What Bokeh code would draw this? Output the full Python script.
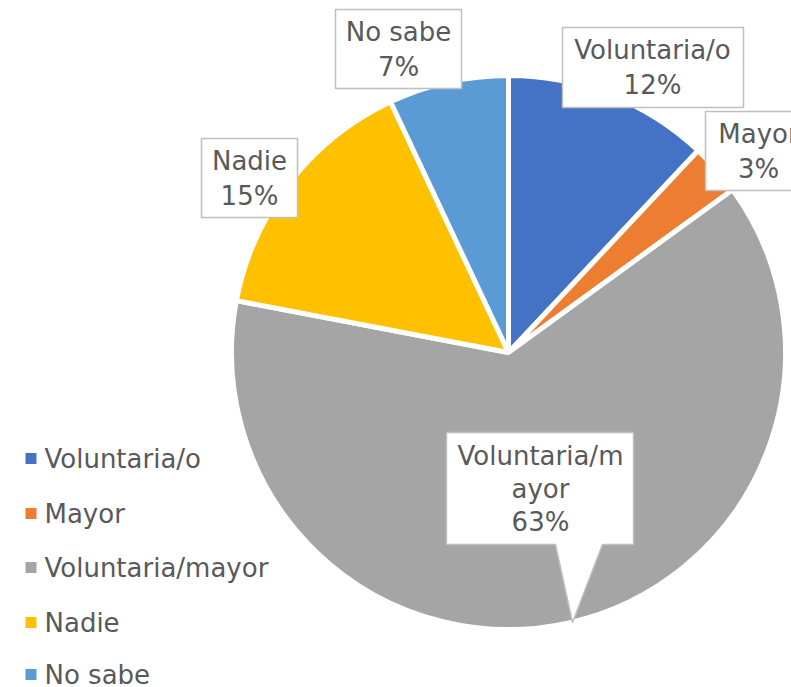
import math
from bokeh.plotting import figure
from bokeh.models import Range1d, ColumnDataSource
from bokeh.core.properties import value
from bokeh.embed import file_html
from bokeh.resources import INLINE

# ---- data ----
categories = ["Voluntaria/o", "Mayor", "Voluntaria/mayor", "Nadie", "No sabe"]
percents = [12, 3, 63, 15, 7]
colors = ["#4472C4", "#ED7D31", "#A5A5A5", "#FFC000", "#5B9BD5"]
label_lines = [["Voluntaria/o", "12%"], ["Mayor", "3%"], ["Voluntaria/m", "ayor", "63%"],
               ["Nadie", "15%"], ["No sabe", "7%"]]

W, H = 791, 687
FONT = "DejaVu Sans"
TXT = "#595959"
FS = "26px"

def Y(py):
    return H - py

p = figure(width=W, height=H, x_range=Range1d(0, W), y_range=Range1d(0, H),
           toolbar_location=None, output_backend="svg", min_border=0,
           x_axis_location=None, y_axis_location=None)
p.grid.visible = False
p.outline_line_color = None
p.background_fill_color = "white"

# ---- pie ----
cx, cy, r = 508, Y(352), 277
total = sum(percents)
starts, ends = [], []
cum = 0
for v in percents:
    a0 = math.pi / 2 - 2 * math.pi * cum / total
    cum += v
    a1 = math.pi / 2 - 2 * math.pi * cum / total
    starts.append(a0)
    ends.append(a1)
src = ColumnDataSource(dict(start=starts, end=ends, color=colors, cat=categories))
p.wedge(x=cx, y=cy, radius=r, start_angle="start", end_angle="end", direction="clock",
        fill_color="color", line_color="white", line_width=5, source=src)

# ---- data labels (boxes) ----
# box geometry in pixel coords: (left, top, right, bottom)
boxes = [(562, 27, 743, 107), (705, 111, 815, 190), (446, 432, 633, 544),
         (201, 138, 297, 217), (335, 9, 461, 88)]
text_cx = [652, 758, 540, 249, 398]
line_h = [35, 35, 33, 35, 35]
for i, (l, t, rr, b) in enumerate(boxes):
    if i == 2:
        # callout with pointer
        xs = [l, rr, rr, 602, 572, 555, l]
        ys = [Y(t), Y(t), Y(b), Y(b), Y(622), Y(b), Y(b)]
        p.patch(xs, ys, fill_color="white", line_color="#BFBFBF", line_width=1.5)
    else:
        p.quad(left=l, right=rr, top=Y(t), bottom=Y(b), fill_color="white",
               line_color="#BFBFBF", line_width=1.5)
    lines = label_lines[i]
    n = len(lines)
    cyb = (t + b) / 2
    for j, s in enumerate(lines):
        yy = cyb + (j - (n - 1) / 2) * line_h[i]
        p.text(x=[text_cx[i]], y=[Y(yy)], text=[s], text_align="center", text_baseline="middle",
               text_font=value(FONT), text_font_size=FS, text_color=TXT)

# ---- legend ----
leg_y = [458, 513, 567, 622, 674]
for k, cat in enumerate(categories):
    p.rect(x=[30.5], y=[Y(leg_y[k])], width=11, height=11, fill_color=colors[k], line_color=None)
    p.text(x=[44], y=[Y(leg_y[k])], text=[cat], text_align="left", text_baseline="middle",
           text_font=value(FONT), text_font_size=FS, text_color=TXT)

open("out.html", "w").write(file_html(p, INLINE))
